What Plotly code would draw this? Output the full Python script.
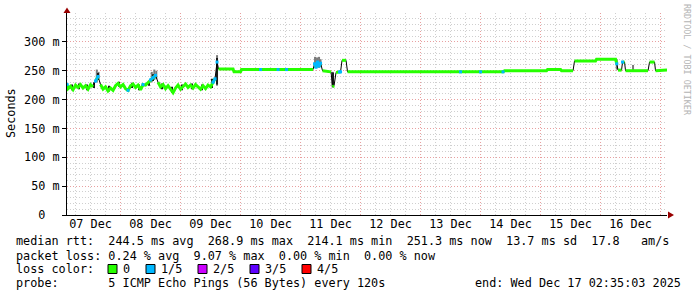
import plotly.graph_objects as go
from datetime import datetime, timedelta

# ---------------- data ----------------
BASE = datetime(2025, 12, 7, 0, 0, 0)
START = datetime(2025, 12, 7, 2, 35, 3)
END = datetime(2025, 12, 17, 2, 35, 3)

# hours since 2025-12-07 00:00
hours = [2.6, 3, 4, 5, 6, 7, 8, 9, 10, 11, 12, 13, 14, 15, 16, 17, 18, 19, 20, 21, 22,
         23, 24, 25, 26, 27, 28, 29, 30, 31, 32, 33, 34, 35, 36, 37, 38, 39, 40, 41, 42,
         43, 44, 45, 46, 47, 48, 49, 50, 51, 52, 53, 54, 55, 56, 57, 58, 59, 60, 61,
         61.8, 62.6, 63.2, 69, 69.4, 72, 72.4, 80, 87, 90.4, 101,
         101.6, 102.2, 102.8, 103.4, 104, 104.8, 107.2, 108.2, 108.8, 109.4, 110.2,
         111.6, 112, 112.6, 114.2, 114.8, 160, 168, 177, 177.6, 194.4, 194.8, 200,
         200.4, 205, 205.6, 214, 214.4, 222, 222.5, 223, 224.4, 224.8, 225.6, 226,
         235, 235.6, 237.6, 238, 242.58]
# median rtt in ms
median_ms = [226, 219, 223, 217, 225, 221, 226, 220, 224, 218, 226, 222, 232, 240, 226, 218,
             222, 215, 220, 216, 224, 228, 222, 226, 219, 216, 224, 227, 221, 225, 217, 226,
             225, 229, 234, 238, 242, 230, 222, 226, 219, 224, 217, 212, 220, 225, 218, 223,
             227, 221, 225, 220, 226, 222, 218, 224, 219, 225, 222, 230,
             236, 265, 253, 253, 248, 248, 252, 252, 252, 252, 252,
             262, 256, 265, 258, 263, 250, 248, 248, 222, 224, 247,
             248, 248, 268, 268, 248, 248, 248, 248, 250, 250, 252, 252,
             250, 250, 267, 267, 270, 270, 262, 251, 251, 265, 265, 250,
             250, 265, 265, 250, 251.3]
# number of lost pings (out of 5) per sample
loss = [1, 0, 0, 0, 0, 0, 0, 0, 0, 0, 0, 0, 1, 1, 0, 0, 0, 0, 0, 0, 0,
        0, 0, 0, 0, 1, 0, 0, 0, 0, 0, 1, 0, 0, 1, 1, 1, 0, 0, 0, 0,
        0, 0, 0, 0, 0, 0, 0, 0, 0, 0, 0, 0, 0, 0, 0, 0, 0, 0, 1,
        1, 1, 0, 0, 0, 0, 0, 1, 1, 1, 0,
        1, 1, 1, 1, 1, 0, 0, 0, 0, 0, 0,
        1, 1, 0, 0, 0, 1, 1, 1, 0, 0, 0, 0,
        0, 0, 0, 0, 0, 0, 1, 0, 0, 1, 0, 0,
        0, 0, 0, 0, 0]

# outer smoke (spread of all pings) where it is visible
smoke_hours = [14.5, 15.2, 36.5, 37.5, 38.3, 62.6, 101.8, 102.6, 103.4, 104.0, 108.8,
               222.5, 229.0]
smoke_lo = [230, 236, 230, 234, 236, 224, 255, 256, 255, 257, 221, 252, 250]
smoke_hi = [252, 248, 248, 252, 250, 277, 274, 273, 274, 270, 248, 270, 260]

# dense core of the smoke in the noisy first days
core_hours = [4.5, 7.5, 10.5, 13.5, 14.8, 19.5, 23.5, 28.5, 31.5, 35.5, 37.0, 40.5, 44.5,
              48.5, 52.5, 56.5, 60.5, 62.6, 108.8]
core_lo = [216, 218, 216, 220, 234, 214, 222, 220, 216, 224, 232, 218, 212, 216, 218, 216,
           220, 226, 222]
core_hi = [226, 228, 226, 230, 246, 224, 231, 229, 226, 232, 244, 228, 222, 226, 228, 226,
           236, 272, 247]

loss_labels = ["0", "1/5", "2/5", "3/5", "4/5"]
loss_colors = ["#26ff00", "#00b8ff", "#cc00ff", "#5e00ff", "#ff0000"]

y_ticks = [0, 50, 100, 150, 200, 250, 300]
y_ticktext = ["0\u00a0\u00a0", "50 m", "100 m", "150 m", "200 m", "250 m", "300 m"]

stat_median = ["244.5", "268.9", "214.1", "251.3", "13.7", "17.8"]
stat_loss = ["0.24", "9.07", "0.00", "0.00"]
probe_text = "5 ICMP Echo Pings (56 Bytes) every 120s"
end_text = "end: Wed Dec 17 02:35:03 2025"

# ---------------- geometry ----------------
W, H = 697, 297
L, R, T, B = 67, 30, 13, 82
PW, PH = W - L - R, H - T - B
FONT = "DejaVu Sans Mono"
FS = 11.8


def px(x):
    return (x - L) / PW


def py(y):
    return (T + PH - y) / PH


times = [BASE + timedelta(hours=h) for h in hours]

fig = go.Figure()

# outer smoke
fig.add_trace(go.Bar(
    x=[BASE + timedelta(hours=h) for h in smoke_hours],
    y=[hi - lo for lo, hi in zip(smoke_lo, smoke_hi)],
    base=smoke_lo,
    width=0.8 * 3600000,
    marker=dict(color="#7a7a7a", line=dict(width=0)),
    hoverinfo="skip", showlegend=False))

# dense smoke core
fig.add_trace(go.Bar(
    x=[BASE + timedelta(hours=h) for h in core_hours],
    y=[hi - lo for lo, hi in zip(core_lo, core_hi)],
    base=core_lo,
    width=0.4 * 3600000,
    marker=dict(color="#1a1a1a", line=dict(width=0)),
    hoverinfo="skip", showlegend=False))

# thin black line (all transitions)
fig.add_trace(go.Scatter(x=times, y=median_ms, mode="lines",
                         line=dict(color="#000000", width=1),
                         hoverinfo="skip", showlegend=False))

# green median line, broken at large jumps
gx, gy = [], []
for i in range(len(times)):
    if i > 0 and abs(median_ms[i] - median_ms[i - 1]) > 9:
        gx.append(None)
        gy.append(None)
    gx.append(times[i])
    gy.append(median_ms[i])
fig.add_trace(go.Scatter(x=gx, y=gy, mode="lines",
                         line=dict(color=loss_colors[0], width=3),
                         hoverinfo="skip", showlegend=False))

# samples with 1/5 loss
bx, by = [], []
for i in range(len(times)):
    if loss[i] == 1:
        if i > 0 and (loss[i - 1] != 1 or abs(median_ms[i] - median_ms[i - 1]) > 9
                      or hours[i] - hours[i - 1] > 1.5):
            bx.append(None)
            by.append(None)
        bx.append(times[i])
        by.append(median_ms[i])
fig.add_trace(go.Scatter(x=bx, y=by, mode="lines+markers",
                         line=dict(color=loss_colors[1], width=2.5),
                         marker=dict(color=loss_colors[1], size=3, symbol="square",
                                     line=dict(width=0)),
                         hoverinfo="skip", showlegend=False))

GRID_MINOR = "#cfcfcf"
GRID_MAJOR = "#e8a0a0"
DASH = "1px,2px"

fig.update_layout(
    width=W, height=H,
    margin=dict(l=L, r=R, t=T, b=B, pad=0),
    paper_bgcolor="white", plot_bgcolor="white",
    font=dict(family=FONT, size=FS, color="#000000"),
    barmode="overlay",
    xaxis=dict(
        type="date", range=[START, END],
        tick0="2025-12-07", dtick=86400000, tickformat="%d %b",
        ticklabelmode="period", ticklabelstandoff=-2,
        showgrid=True, gridcolor=GRID_MAJOR, griddash=DASH, gridwidth=1,
        minor=dict(dtick=21600000, showgrid=True, gridcolor=GRID_MINOR,
                   griddash=DASH, gridwidth=1),
        showline=True, linecolor="#000000", linewidth=1,
        ticks="", zeroline=False,
        tickfont=dict(family=FONT, size=FS, color="#000000"),
    ),
    yaxis=dict(
        range=[0, 350], tickmode="array", tickvals=y_ticks, ticktext=y_ticktext,
        showgrid=True, gridcolor=GRID_MAJOR, griddash=DASH, gridwidth=1,
        minor=dict(dtick=10, tick0=0, showgrid=True, gridcolor=GRID_MINOR,
                   griddash=DASH, gridwidth=1),
        showline=True, linecolor="#000000", linewidth=1,
        ticks="outside", ticklen=4, tickcolor="#000000",
        zeroline=False,
        tickfont=dict(family=FONT, size=FS, color="#000000"),
    ),
)

ann = []


def text(s, x, y, anchor="left", **kw):
    ann.append(dict(text=s.replace(" ", "\u00a0"), xref="paper", yref="paper",
                    x=px(x), y=py(y), xanchor=anchor, yanchor="middle",
                    showarrow=False, borderpad=0, borderwidth=0,
                    font=kw.pop("font", dict(family=FONT, size=FS, color="#000000")),
                    **kw))


text("median rtt:  {} ms avg  {} ms max  {} ms min  {} ms now  {} ms sd  {}   am/s".format(*stat_median),
     16, 241.5)
text("packet loss: {} % avg  {} % max  {} % min  {} % now".format(*stat_loss), 16, 255.5)
text("loss color:", 16, 269)
text("probe:       " + probe_text, 16, 283)
text(end_text, 681, 283, anchor="right")
text("Seconds", 11, 113, anchor="center", textangle=-90)
text("RRDTOOL / TOBI OETIKER", 687, 60, anchor="center", textangle=90,
     font=dict(family=FONT, size=8.4, color="#b4b4b4"))

shapes = []
bx0 = 108
for lab, col in zip(loss_labels, loss_colors):
    shapes.append(dict(type="rect", xref="paper", yref="paper",
                       x0=px(bx0), x1=px(bx0 + 9), y0=py(273.5), y1=py(264.5),
                       fillcolor=col, line=dict(color="#000000", width=1)))
    text(lab, bx0 + 15, 269)
    bx0 = bx0 + 15 + 7 * len(lab) + 16

# axis arrows
ARROW = "#990000"


def tri(p):
    return "M {} {} L {} {} L {} {} Z".format(px(p[0][0]), py(p[0][1]), px(p[1][0]), py(p[1][1]),
                                          px(p[2][0]), py(p[2][1]))


shapes.append(dict(type="path", xref="paper", yref="paper",
                   path=tri([(67, 7.5), (63.5, 13), (70.5, 13)]),
                   fillcolor=ARROW, line=dict(width=0)))
shapes.append(dict(type="path", xref="paper", yref="paper",
                   path=tri([(674, 215), (668, 211.5), (668, 218.5)]),
                   fillcolor=ARROW, line=dict(width=0)))

fig.update_layout(annotations=ann, shapes=shapes)
fig.write_html("out.html")
